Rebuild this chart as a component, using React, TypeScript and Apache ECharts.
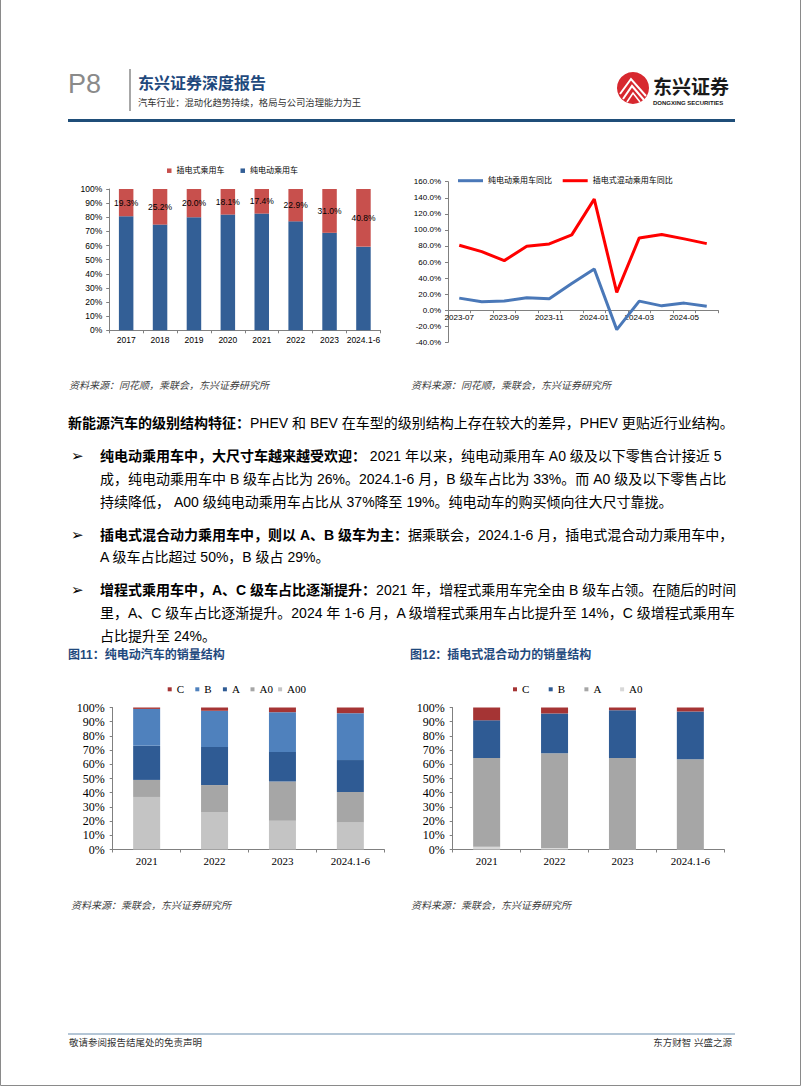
import React, { useEffect, useRef } from "react";
import * as echarts from "echarts";

// ---------- data ----------
const years1 = ["2017", "2018", "2019", "2020", "2021", "2022", "2023", "2024.1-6"];
const phevShare = [19.3, 25.2, 20.0, 18.1, 17.4, 22.9, 31.0, 40.8];
const bevShare = [80.7, 74.8, 80.0, 81.9, 82.6, 77.1, 69.0, 59.2];

const months = ["2023-07", "2023-08", "2023-09", "2023-10", "2023-11", "2023-12", "2024-01", "2024-02", "2024-03", "2024-04", "2024-05", "2024-06"];
const bevYoY = [15.0, 10.4, 11.3, 15.4, 14.2, 33.3, 51.3, -24.2, 11.3, 5.4, 8.8, 5.0];
const phevYoY = [80.8, 72.9, 61.7, 79.6, 82.5, 93.8, 138.3, 22.1, 90.0, 94.2, 88.8, 82.9];
const yoyMin = -40;
const yoyMax = 160;

const years2 = ["2021", "2022", "2023", "2024.1-6"];
const bevC = [1.0, 2.3, 3.3, 4.0];
const bevB = [26.0, 25.5, 28.0, 33.0];
const bevA = [24.0, 26.8, 20.8, 22.5];
const bevA0 = [12.0, 19.0, 27.6, 21.5];
const bevA00 = [37.0, 26.4, 20.3, 19.0];

const phevC = [9.0, 4.2, 1.9, 2.8];
const phevB = [26.5, 28.0, 33.6, 33.6];
const phevA = [62.5, 66.8, 64.2, 63.3];
const phevA0 = [2.0, 1.0, 0.3, 0.3];

const pctTicks = (v: number) => v + "%";
const pct1 = (v: number) => v.toFixed(1) + "%";

// ---------- styles ----------
const SANS = "'Liberation Sans', Arial, 'Noto Sans CJK SC', sans-serif";
const SERIF = "'Liberation Serif', 'Times New Roman', 'Noto Sans CJK SC', serif";
const AXIS = "#808080";
const RED1 = "#c8504d";
const BLUE1 = "#335f96";
const C_RED = "#a53434";
const B_LIGHT = "#4f81bd";
const B_DARK = "#2f5b94";
const G_MID = "#a6a6a6";
const G_LIGHT = "#c4c4c4";
const G_XLIGHT = "#d8d8d8";
const NAVY = "#1f497d";

function txt(x: number, y: number, text: string, opt: any = {}) {
  return {
    type: "text",
    x,
    y,
    style: {
      text,
      fontSize: 14,
      fill: "#000",
      fontFamily: SANS,
      verticalAlign: "middle",
      align: "left",
      ...opt,
    },
  };
}

function para(x: number, y: number, text: string) {
  return {
    type: "text",
    x,
    y,
    style: {
      text,
      fontSize: 14,
      fill: "#000",
      fontFamily: SANS,
      verticalAlign: "middle",
      align: "left",
      rich: {
        b: { fontSize: 14, fontWeight: "bold", fill: "#000", fontFamily: SANS },
      },
    },
  };
}

function catAxis(gridIndex: number, data: string[], font: string, size: number, margin: number, extra: any = {}) {
  return {
    type: "category",
    gridIndex,
    data,
    axisLine: { show: true, lineStyle: { color: AXIS, width: 1 } },
    axisTick: { show: true, interval: 0, alignWithLabel: false, length: 3, lineStyle: { color: AXIS } },
    axisLabel: { fontSize: size, color: "#000", fontFamily: font, margin, interval: 0 },
    splitLine: { show: false },
    ...extra,
  };
}

function valAxis(gridIndex: number, min: number, max: number, interval: number, fmt: any, font: string, size: number, margin: number) {
  return {
    type: "value",
    gridIndex,
    min,
    max,
    interval,
    axisLine: { show: true, lineStyle: { color: AXIS, width: 1 } },
    axisTick: { show: true, length: 3, lineStyle: { color: AXIS } },
    axisLabel: { formatter: fmt, fontSize: size, color: "#000", fontFamily: font, margin },
    splitLine: { show: false },
  };
}

function bar(name: string, data: number[], axis: number, color: string, width: number, stack: string, extra: any = {}) {
  return {
    name,
    type: "bar",
    data,
    xAxisIndex: axis,
    yAxisIndex: axis,
    stack,
    barWidth: width,
    itemStyle: { color },
    ...extra,
  };
}

export default function App() {
  const ref = useRef<HTMLDivElement>(null);

  useEffect(() => {
    if (!ref.current) return;
    const chart = echarts.init(ref.current, undefined, { renderer: "svg" });

    const g2Height = 160.6;
    // move the month axis up to the zero line of the value axis
    const zeroOffset = -((0 - yoyMin) / (yoyMax - yoyMin)) * g2Height;

    const arrowStyle = { fontSize: 15, fontWeight: "bold", fontFamily: "'DejaVu Sans', sans-serif" };

    const elements: any[] = [
      // page border (left, bottom, right)
      {
        type: "polyline",
        shape: { points: [[0.5, 0], [0.5, 1085.5], [800.5, 1085.5], [800.5, 0]] },
        style: { stroke: "#8a8a8a", lineWidth: 1, fill: "none" },
      },
      // header
      txt(68, 84, "P8", { fontSize: 27, fill: "#8a8a8a", fontFamily: SANS }),
      { type: "line", shape: { x1: 130, y1: 69, x2: 130, y2: 111 }, style: { stroke: "#8a8a8a", lineWidth: 1.5 } },
      txt(138, 83, "东兴证券深度报告", { fontSize: 16, fontWeight: "bold", fill: NAVY }),
      txt(138, 103, "汽车行业：混动化趋势持续，格局与公司治理能力为王", { fontSize: 9.3, fill: "#333" }),
      { type: "circle", shape: { cx: 633, cy: 88, r: 16 }, style: { fill: "#d7282f" } },
      { type: "polyline", shape: { points: [[620, 94], [631, 79], [646, 96]] }, style: { stroke: "#fff", lineWidth: 2, fill: "none" } },
      { type: "polyline", shape: { points: [[623, 99], [632, 86], [644, 100]] }, style: { stroke: "#fff", lineWidth: 2, fill: "none" } },
      { type: "polyline", shape: { points: [[627, 102], [633, 93], [640, 102]] }, style: { stroke: "#fff", lineWidth: 1.6, fill: "none" } },
      txt(653, 87, "东兴证券", { fontSize: 19, fontWeight: "bold", fill: "#1a1a1a" }),
      txt(653, 102.5, "DONGXING SECURITIES", { fontSize: 6, fontWeight: "bold", fill: "#1a1a1a" }),
      { type: "line", shape: { x1: 68, y1: 120.5, x2: 735, y2: 120.5 }, style: { stroke: "#1f4e79", lineWidth: 3 } },

      // sources top
      txt(69, 385, "资料来源：同花顺，乘联会，东兴证券研究所", { fontSize: 10, fill: "#404040", fontStyle: "italic" }),
      txt(411, 385, "资料来源：同花顺，乘联会，东兴证券研究所", { fontSize: 10, fill: "#404040", fontStyle: "italic" }),

      // paragraphs
      para(68, 423, "{b|新能源汽车的级别结构特征：}PHEV 和 BEV 在车型的级别结构上存在较大的差异，PHEV 更贴近行业结构。"),
      txt(71, 456, "➢", arrowStyle),
      para(100, 456, "{b|纯电动乘用车中，大尺寸车越来越受欢迎：} 2021 年以来，纯电动乘用车 A0 级及以下零售合计接近 5"),
      para(100, 479, "成，纯电动乘用车中 B 级车占比为 26%。2024.1-6 月，B 级车占比为 33%。而 A0 级及以下零售占比"),
      para(100, 502, "持续降低， A00 级纯电动乘用车占比从 37%降至 19%。纯电动车的购买倾向往大尺寸靠拢。"),
      txt(71, 535, "➢", arrowStyle),
      para(100, 535, "{b|插电式混合动力乘用车中，则以 A、B 级车为主：}据乘联会，2024.1-6 月，插电式混合动力乘用车中，"),
      para(100, 557, "A 级车占比超过 50%，B 级占 29%。"),
      txt(71, 590, "➢", arrowStyle),
      para(100, 590, "{b|增程式乘用车中，A、C 级车占比逐渐提升：}2021 年，增程式乘用车完全由 B 级车占领。在随后的时间"),
      para(100, 613, "里，A、C 级车占比逐渐提升。2024 年 1-6 月，A 级增程式乘用车占比提升至 14%，C 级增程式乘用车"),
      para(100, 636, "占比提升至 24%。"),

      // figure titles
      txt(68, 655, "图11：纯电动汽车的销量结构", { fontSize: 12, fontWeight: "bold", fill: NAVY }),
      txt(410, 655, "图12：插电式混合动力的销量结构", { fontSize: 12, fontWeight: "bold", fill: NAVY }),

      // sources bottom
      txt(71, 905, "资料来源：乘联会，东兴证券研究所", { fontSize: 10, fill: "#404040", fontStyle: "italic" }),
      txt(411, 905, "资料来源：乘联会，东兴证券研究所", { fontSize: 10, fill: "#404040", fontStyle: "italic" }),

      // footer
      { type: "line", shape: { x1: 68, y1: 1034, x2: 735, y2: 1034 }, style: { stroke: "#b4c6d6", lineWidth: 2 } },
      txt(69, 1042, "敬请参阅报告结尾处的免责声明", { fontSize: 9.5, fill: "#333" }),
      txt(732, 1042, "东方财智 兴盛之源", { fontSize: 9.5, fill: "#333", align: "right" }),
    ];

    const option: any = {
      animation: false,
      backgroundColor: "#fff",
      textStyle: { fontFamily: SANS },
      grid: [
        { left: 109.2, top: 189, width: 271.2, height: 141.3, containLabel: false },
        { left: 448, top: 181.7, width: 270, height: g2Height, containLabel: false },
        { left: 112.7, top: 707.5, width: 271.6, height: 142, containLabel: false },
        { left: 452.7, top: 707.5, width: 271.6, height: 142, containLabel: false },
      ],
      xAxis: [
        catAxis(0, years1, SANS, 8.5, 5),
        catAxis(1, months, SANS, 8, 3, {
          boundaryGap: true,
          position: "bottom",
          offset: zeroOffset,
          axisLine: { show: true, onZero: false, lineStyle: { color: AXIS, width: 1 } },
          axisLabel: { fontSize: 8, color: "#000", fontFamily: SANS, margin: 3, interval: 1 },
        }),
        catAxis(2, years2, SERIF, 11, 6),
        catAxis(3, years2, SERIF, 11, 6),
      ],
      yAxis: [
        valAxis(0, 0, 100, 10, pctTicks, SANS, 8.5, 7),
        valAxis(1, yoyMin, yoyMax, 20, pct1, SANS, 8, 7),
        valAxis(2, 0, 100, 10, pctTicks, SERIF, 12, 8),
        valAxis(3, 0, 100, 10, pctTicks, SERIF, 12, 8),
      ],
      legend: [
        {
          left: 167, top: 165.7, padding: 0, itemGap: 0, itemWidth: 4.5, itemHeight: 4.5, icon: "rect",
          data: ["插电式乘用车", "纯电动乘用车"],
          textStyle: { fontSize: 8, color: "#000", width: 64, lineHeight: 10, fontFamily: SANS },
        },
        {
          left: 458, top: 175.7, padding: 0, itemGap: 0, itemWidth: 25, itemHeight: 3, icon: "rect",
          data: ["纯电动乘用车同比", "插电式混动乘用车同比"],
          textStyle: { fontSize: 8, color: "#000", width: 74.7, lineHeight: 10, fontFamily: SANS },
        },
        {
          left: 167.7, top: 683.3, padding: 0, itemGap: 0, itemWidth: 4, itemHeight: 4, icon: "rect",
          data: [
            { name: "C", itemStyle: { color: C_RED } },
            { name: "B", itemStyle: { color: B_LIGHT } },
            { name: "A", itemStyle: { color: B_DARK } },
            { name: "A0", itemStyle: { color: G_MID } },
            { name: "A00", itemStyle: { color: G_LIGHT } },
          ],
          textStyle: { fontSize: 11, color: "#000", width: 18.6, lineHeight: 12, fontFamily: SERIF },
        },
        {
          left: 513, top: 683.3, padding: 0, itemGap: 0, itemWidth: 4, itemHeight: 4, icon: "rect",
          data: [
            { name: "C", itemStyle: { color: C_RED } },
            { name: "B", itemStyle: { color: B_DARK } },
            { name: "A", itemStyle: { color: G_MID } },
            { name: "A0", itemStyle: { color: G_XLIGHT } },
          ],
          textStyle: { fontSize: 11, color: "#000", width: 26.7, lineHeight: 12, fontFamily: SERIF },
        },
      ],
      series: [
        bar("纯电动乘用车", bevShare, 0, BLUE1, 14.5, "s1"),
        bar("插电式乘用车", phevShare, 0, RED1, 14.5, "s1", {
          label: {
            show: true,
            position: "inside",
            formatter: (p: any) => pct1(p.value),
            fontSize: 8.5,
            color: "#000",
            fontFamily: SANS,
          },
        }),
        {
          name: "纯电动乘用车同比", type: "line", data: bevYoY, xAxisIndex: 1, yAxisIndex: 1,
          symbol: "none", lineStyle: { color: "#4a78b8", width: 3 }, itemStyle: { color: "#4a78b8" },
        },
        {
          name: "插电式混动乘用车同比", type: "line", data: phevYoY, xAxisIndex: 1, yAxisIndex: 1,
          symbol: "none", lineStyle: { color: "#ff0000", width: 3 }, itemStyle: { color: "#ff0000" },
        },
        bar("A00", bevA00, 2, G_LIGHT, 27, "s3"),
        bar("A0", bevA0, 2, G_MID, 27, "s3"),
        bar("A", bevA, 2, B_DARK, 27, "s3"),
        bar("B", bevB, 2, B_LIGHT, 27, "s3"),
        bar("C", bevC, 2, C_RED, 27, "s3"),
        bar("A0", phevA0, 3, G_XLIGHT, 27, "s4"),
        bar("A", phevA, 3, G_MID, 27, "s4"),
        bar("B", phevB, 3, B_DARK, 27, "s4"),
        bar("C", phevC, 3, C_RED, 27, "s4"),
      ],
      graphic: { elements },
    };

    chart.setOption(option);
    return () => chart.dispose();
  }, []);

  return (
    <div
      ref={ref}
      style={{ position: "absolute", left: 0, top: 0, width: 802, height: 1087, background: "#fff" }}
    />
  );
}
